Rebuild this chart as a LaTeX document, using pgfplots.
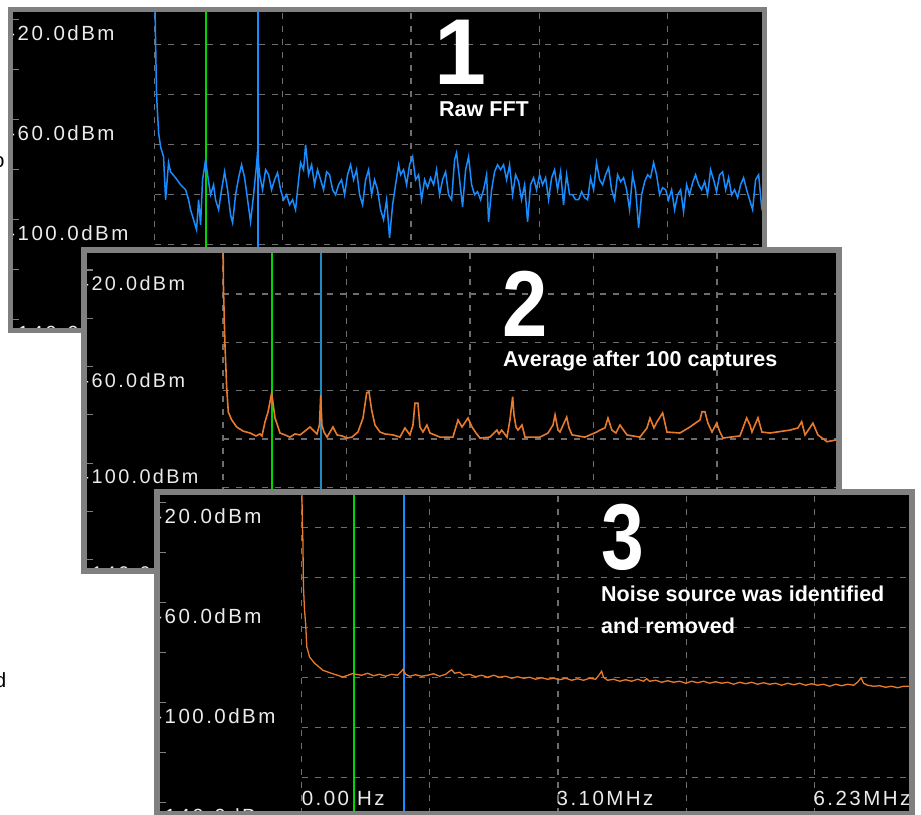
\documentclass[border=0pt]{standalone}
\usepackage{fontspec}
\setmainfont{Liberation Sans}
\newfontfamily\lab[LetterSpace=12]{Liberation Sans}
\usepackage{pgfplots}
\pgfplotsset{compat=1.18}
\definecolor{framec}{RGB}{128,128,128}
\definecolor{gridc}{RGB}{110,110,110}
\definecolor{traceblue}{RGB}{25,140,255}
\definecolor{traceorange}{RGB}{232,122,44}
\definecolor{cursorgreen}{RGB}{0,215,0}
\definecolor{cursorteal}{RGB}{30,140,195}
\definecolor{labc}{RGB}{235,235,235}
\tikzset{gridl/.style={gridc, line width=1.3pt, dash pattern=on 6pt off 7pt},
 ylab/.style={anchor=base west, inner sep=0, text=labc}}
\pgfplotsset{
 panel/.style={
  scale only axis, anchor=south west,
  axis background/.style={fill=black},
  axis line style={draw=none},
  xtick=\empty,
  ytick={-20,-40,-60,-80,-100,-120,-140},
  yticklabels={},
  ytick pos=left,
  tick align=inside,
  major tick length=6pt,
  tick style={framec, line width=1.2pt},
  clip=true,
 },
}
\newcommand{\gridlines}{%
 \draw[gridl] (axis cs:0,-30) -- (axis cs:8,-30);
 \draw[gridl] (axis cs:0,-50) -- (axis cs:8,-50);
 \draw[gridl] (axis cs:0,-70) -- (axis cs:8,-70);
 \draw[gridl] (axis cs:0,-90) -- (axis cs:8,-90);
 \draw[gridl] (axis cs:0,-110) -- (axis cs:8,-110);
 \draw[gridl] (axis cs:0,-130) -- (axis cs:8,-130);
 \draw[gridl] (axis cs:0,-150) -- (axis cs:0,0);
 \draw[gridl] (axis cs:1.5575,-150) -- (axis cs:1.5575,0);
 \draw[gridl] (axis cs:3.115,-150) -- (axis cs:3.115,0);
 \draw[gridl] (axis cs:4.6725,-150) -- (axis cs:4.6725,0);
 \draw[gridl] (axis cs:6.23,-150) -- (axis cs:6.23,0);
}
% #1 xmin, #2 xshift, #3 font size
\newcommand{\ylabels}[3]{%
 \node[ylab, xshift=#2, font=\lab\fontsize{#3}{24}\selectfont] at (axis cs:#1,-28.5) {-20.0dBm};
 \node[ylab, xshift=#2, font=\lab\fontsize{#3}{24}\selectfont] at (axis cs:#1,-68.5) {-60.0dBm};
 \node[ylab, xshift=#2, font=\lab\fontsize{#3}{24}\selectfont] at (axis cs:#1,-108.5) {-100.0dBm};
 \node[ylab, xshift=#2, font=\lab\fontsize{#3}{24}\selectfont] at (axis cs:#1,-148.5) {-140.0dBm};
}
\begin{document}
\begin{tikzpicture}
\useasboundingbox (0pt,0pt) rectangle (921pt,814pt);
\fill[white] (0pt,0pt) rectangle (921pt,814pt);
\node[anchor=base east, inner sep=0, font=\fontsize{20.5}{24}\selectfont] at (4.7pt,646pt) {o};
\node[anchor=base east, inner sep=0, font=\fontsize{20.5}{24}\selectfont] at (6.4pt,126pt) {d};

% ---------------- Panel 1 ----------------
\begin{axis}[panel, at={(13pt,486pt)}, width=749pt, height=316pt,
  xmin=-1.72, xmax=7.38, ymin=-143.5, ymax=-17.1]
\gridlines
\addplot[draw=cursorgreen, line width=2pt] coordinates {(0.620,-150) (0.620,0)};
\addplot[draw=traceblue, line width=2pt] coordinates {(1.251,-150) (1.251,0)};
\addplot[draw=traceblue, line width=1.5pt] coordinates {
(0,-5) (0.012,-28.2) (0.024,-50.2) (0.049,-65.4) (0.073,-71.0) (0.109,-75.0) (0.134,-92.2) (0.170,-77.4) (0.194,-81.0) (0.255,-83.4) (0.316,-86.2) (0.377,-88.2) (0.413,-92.2) (0.437,-96.2) (0.474,-100.2) (0.510,-104.2) (0.535,-92.2) (0.559,-102.2) (0.583,-84.2) (0.620,-76.2) (0.644,-82.2) (0.680,-90.2) (0.717,-86.2) (0.741,-92.2) (0.778,-96.2) (0.814,-88.2) (0.851,-81.0) (0.887,-88.2) (0.923,-98.2) (0.948,-101.4) (0.984,-90.2) (1.021,-83.4) (1.057,-78.2) (1.094,-83.4) (1.130,-92.2) (1.166,-101.0) (1.203,-90.2) (1.239,-78.2) (1.251,-73.0) (1.276,-82.2) (1.312,-88.2) (1.349,-80.2) (1.385,-82.2) (1.422,-88.2) (1.458,-84.2) (1.494,-81.4) (1.531,-88.2) (1.567,-92.2) (1.604,-90.2) (1.640,-94.2) (1.677,-92.2) (1.713,-96.2) (1.750,-84.2) (1.774,-77.4) (1.810,-80.2) (1.835,-70.2) (1.871,-82.2) (1.908,-78.2) (1.944,-86.2) (1.980,-80.2) (2.017,-84.2) (2.053,-88.2) (2.090,-81.0) (2.126,-82.2) (2.163,-88.2) (2.199,-90.2) (2.236,-86.2) (2.272,-84.2) (2.309,-90.2) (2.345,-82.2) (2.381,-78.2) (2.418,-84.2) (2.454,-80.2) (2.491,-90.2) (2.527,-94.2) (2.564,-84.2) (2.600,-80.2) (2.637,-90.2) (2.673,-84.2) (2.709,-88.2) (2.746,-96.2) (2.782,-100.2) (2.819,-92.2) (2.855,-107.4) (2.892,-94.2) (2.928,-86.2) (2.965,-78.2) (2.989,-82.2) (3.025,-80.2) (3.062,-86.2) (3.098,-78.2) (3.135,-75.0) (3.171,-84.2) (3.208,-82.2) (3.244,-92.2) (3.281,-84.2) (3.317,-87.4) (3.353,-83.4) (3.390,-86.2) (3.426,-80.2) (3.463,-90.2) (3.499,-84.2) (3.536,-81.0) (3.572,-90.2) (3.609,-92.2) (3.645,-76.2) (3.669,-73.4) (3.706,-84.2) (3.742,-95.0) (3.779,-80.2) (3.815,-75.0) (3.852,-86.2) (3.888,-90.2) (3.924,-89.0) (3.961,-92.2) (3.997,-88.2) (4.034,-82.2) (4.058,-101.0) (4.095,-88.2) (4.131,-81.0) (4.167,-78.2) (4.204,-80.2) (4.240,-78.2) (4.277,-84.2) (4.313,-78.2) (4.350,-90.2) (4.386,-82.2) (4.423,-85.0) (4.459,-92.2) (4.496,-86.2) (4.532,-101.0) (4.568,-86.2) (4.605,-83.4) (4.641,-88.2) (4.678,-82.2) (4.714,-86.2) (4.751,-83.4) (4.787,-92.2) (4.824,-83.4) (4.860,-80.2) (4.896,-88.2) (4.933,-81.0) (4.969,-94.2) (5.006,-82.2) (5.042,-90.2) (5.079,-90.2) (5.115,-92.2) (5.152,-92.2) (5.188,-89.0) (5.225,-91.4) (5.261,-92.2) (5.297,-83.4) (5.334,-88.2) (5.370,-77.4) (5.407,-84.2) (5.443,-86.2) (5.480,-82.2) (5.516,-79.4) (5.553,-88.2) (5.589,-92.2) (5.625,-82.2) (5.662,-85.0) (5.698,-83.4) (5.735,-88.2) (5.771,-96.2) (5.808,-82.2) (5.844,-88.2) (5.881,-103.4) (5.917,-90.2) (5.954,-85.0) (5.990,-82.2) (6.026,-83.4) (6.063,-77.4) (6.099,-82.2) (6.136,-90.2) (6.172,-87.4) (6.209,-88.2) (6.245,-92.2) (6.282,-88.2) (6.318,-96.2) (6.355,-90.2) (6.391,-88.2) (6.427,-97.0) (6.464,-86.2) (6.500,-90.2) (6.537,-85.4) (6.573,-82.2) (6.610,-86.2) (6.646,-88.2) (6.683,-85.0) (6.719,-90.2) (6.755,-80.2) (6.792,-84.2) (6.828,-89.0) (6.865,-82.2) (6.901,-81.0) (6.938,-88.2) (6.974,-83.4) (7.011,-90.2) (7.047,-88.2) (7.084,-91.4) (7.120,-86.2) (7.156,-83.4) (7.193,-88.2) (7.229,-92.2) (7.266,-96.2) (7.302,-84.2) (7.339,-82.2) (7.375,-95.0) (7.412,-90.2)};
\begin{scope}
\clip (rel axis cs:0,0) rectangle (rel axis cs:1,1);
\ylabels{-1.72}{-4.8pt}{20.5}
\end{scope}
\end{axis}
\draw[framec, line width=5pt] (10.5pt,483.5pt) rectangle (764.5pt,804.5pt);
\node[anchor=base, inner sep=0, text=white, font=\bfseries\fontsize{93.6}{100}\selectfont] at (461pt,729pt) {1};
\node[anchor=base west, inner sep=0, text=white, font=\bfseries\fontsize{21.5}{24}\selectfont] at (439pt,697pt) {Raw FFT};

% ---------------- Panel 2 ----------------
\begin{axis}[panel, at={(87pt,246pt)}, width=749pt, height=315pt,
  xmin=-1.715, xmax=7.731, ymin=-143.4, ymax=-12.96, major tick length=5.8pt]
\gridlines
\addplot[draw=cursorgreen, line width=2pt] coordinates {(0.618,-150) (0.618,0)};
\addplot[draw=cursorteal, line width=2pt] coordinates {(1.236,-150) (1.236,0)};
\addplot[draw=traceorange, line width=1.6pt] coordinates {
(0,-5) (0.006,-27.5) (0.025,-51.1) (0.047,-68.9) (0.067,-78.8) (0.110,-82.1) (0.173,-85.0) (0.252,-86.7) (0.341,-87.5) (0.416,-88.7) (0.467,-87.9) (0.492,-88.7) (0.530,-82.9) (0.568,-78.8) (0.614,-70.9) (0.656,-81.3) (0.694,-85.0) (0.719,-87.5) (0.782,-88.3) (0.845,-89.2) (0.908,-87.9) (0.971,-88.3) (1.034,-86.7) (1.097,-85.0) (1.135,-86.3) (1.185,-87.9) (1.217,-84.2) (1.232,-71.8) (1.248,-84.2) (1.274,-87.1) (1.312,-89.2) (1.387,-85.0) (1.438,-88.3) (1.501,-88.7) (1.564,-89.6) (1.627,-89.2) (1.702,-87.1) (1.766,-81.3) (1.812,-70.9) (1.841,-70.4) (1.875,-78.0) (1.917,-84.2) (1.980,-87.1) (2.043,-87.9) (2.144,-88.3) (2.232,-89.2) (2.295,-85.4) (2.358,-88.3) (2.396,-84.2) (2.421,-75.1) (2.459,-75.1) (2.484,-85.0) (2.522,-87.1) (2.572,-84.2) (2.610,-87.5) (2.736,-89.2) (2.900,-89.2) (2.964,-82.1) (3.014,-85.0) (3.090,-81.3) (3.140,-85.0) (3.191,-87.5) (3.241,-89.6) (3.367,-89.2) (3.455,-86.3) (3.481,-87.9) (3.515,-86.3) (3.582,-89.2) (3.619,-82.1) (3.653,-72.5) (3.670,-80.0) (3.695,-85.0) (3.720,-86.3) (3.771,-84.2) (3.809,-89.2) (3.872,-89.2) (3.998,-89.2) (4.099,-87.5) (4.162,-84.2) (4.188,-80.0) (4.225,-86.3) (4.250,-87.1) (4.335,-80.9) (4.364,-85.4) (4.402,-88.3) (4.565,-89.2) (4.713,-87.1) (4.754,-86.3) (4.817,-85.4) (4.855,-81.3) (4.905,-86.3) (4.956,-87.5) (5.006,-84.2) (5.095,-88.3) (5.259,-89.2) (5.347,-85.4) (5.385,-81.3) (5.435,-85.4) (5.473,-82.9) (5.545,-79.2) (5.599,-87.1) (5.763,-87.5) (5.889,-85.0) (6.015,-82.1) (6.041,-78.7) (6.078,-78.7) (6.116,-83.4) (6.167,-87.1) (6.226,-83.4) (6.267,-87.1) (6.305,-89.6) (6.520,-88.7) (6.604,-81.3) (6.646,-84.2) (6.671,-87.1) (6.747,-81.2) (6.797,-87.1) (6.898,-87.5) (7.150,-86.3) (7.251,-85.4) (7.298,-82.8) (7.340,-88.3) (7.440,-83.4) (7.503,-88.3) (7.617,-91.1) (7.730,-90.4)};
\begin{scope}
\clip (rel axis cs:0,0) rectangle (rel axis cs:1,1);
\ylabels{-1.715}{-4.6pt}{19.8}
\end{scope}
\end{axis}
\draw[framec, line width=6pt] (84pt,243pt) rectangle (839pt,564pt);
\node[anchor=base, inner sep=0, text=white, font=\bfseries\fontsize{93.6}{100}\selectfont] at (525pt,477.3pt) {\scalebox{0.87}[1]{2}};
\node[anchor=base west, inner sep=0, text=white, font=\bfseries\fontsize{21.5}{24}\selectfont] at (503pt,447.5pt) {Average after 100 captures};

% ---------------- Panel 3 ----------------
\begin{axis}[panel, at={(160pt,3pt)}, width=749pt, height=316pt,
  xmin=-1.72, xmax=7.38, ymin=-143.5, ymax=-17.1]
\gridlines
\addplot[draw=cursorgreen, line width=2pt] coordinates {(0.632,-150) (0.632,0)};
\addplot[draw=traceblue, line width=2pt] coordinates {(1.239,-150) (1.239,0)};
\addplot[draw=traceorange, line width=1.3pt] coordinates {
(0,-5) (0.009,-27.2) (0.016,-35.2) (0.023,-53.9) (0.036,-63.2) (0.049,-68.4) (0.064,-77.9) (0.097,-81.9) (0.158,-84.4) (0.259,-87.2) (0.361,-88.4) (0.502,-89.9) (0.623,-88.5) (0.656,-88.8) (0.729,-89.2) (0.802,-88.4) (0.875,-89.4) (0.948,-88.8) (1.021,-89.6) (1.094,-88.8) (1.166,-89.2) (1.203,-88.0) (1.233,-86.8) (1.264,-88.8) (1.312,-89.6) (1.385,-89.0) (1.458,-89.6) (1.531,-89.2) (1.604,-88.6) (1.677,-89.6) (1.750,-88.8) (1.798,-87.6) (1.823,-87.0) (1.859,-88.4) (1.920,-88.0) (1.968,-89.2) (2.041,-88.8) (2.114,-89.8) (2.187,-89.2) (2.260,-90.0) (2.333,-89.2) (2.406,-90.0) (2.479,-89.6) (2.552,-90.4) (2.624,-89.8) (2.697,-90.4) (2.770,-90.0) (2.843,-90.8) (2.916,-90.2) (2.989,-90.8) (3.062,-90.4) (3.135,-91.0) (3.208,-90.4) (3.281,-91.2) (3.353,-90.6) (3.426,-91.2) (3.499,-90.4) (3.572,-90.8) (3.621,-88.8) (3.645,-87.6) (3.669,-90.0) (3.718,-91.2) (3.791,-90.8) (3.864,-91.6) (3.937,-91.0) (4.010,-91.6) (4.082,-90.8) (4.155,-91.6) (4.192,-90.6) (4.228,-91.6) (4.301,-91.2) (4.374,-92.0) (4.447,-91.4) (4.520,-92.0) (4.593,-91.6) (4.666,-92.4) (4.739,-91.6) (4.811,-92.2) (4.884,-91.6) (4.957,-92.4) (5.030,-91.8) (5.103,-92.4) (5.176,-92.0) (5.249,-92.8) (5.322,-92.0) (5.395,-92.6) (5.468,-92.0) (5.540,-92.8) (5.613,-92.2) (5.686,-92.8) (5.759,-92.4) (5.832,-93.2) (5.905,-92.4) (5.978,-93.0) (6.051,-92.4) (6.124,-93.2) (6.197,-92.6) (6.269,-93.2) (6.342,-92.8) (6.415,-93.6) (6.488,-92.8) (6.561,-93.4) (6.634,-92.8) (6.707,-93.2) (6.755,-92.0) (6.798,-90.2) (6.828,-92.4) (6.877,-93.2) (6.950,-93.6) (7.023,-93.4) (7.096,-94.0) (7.169,-93.6) (7.241,-94.2) (7.314,-93.6) (7.387,-93.6)};
\begin{scope}
\clip (rel axis cs:0,0) rectangle (rel axis cs:1,1);
\ylabels{-1.72}{-4.8pt}{20.5}
\node[ylab, font=\lab\fontsize{20.5}{24}\selectfont] at (axis cs:0,-141.2) {0.00 Hz};
\node[ylab, xshift=-1.5pt, font=\lab\fontsize{20.5}{24}\selectfont] at (axis cs:3.115,-141.2) {3.10MHz};
\node[ylab, xshift=-1pt, font=\lab\fontsize{20.5}{24}\selectfont] at (axis cs:6.23,-141.2) {6.23MHz};
\end{scope}
\end{axis}
\draw[framec, line width=6pt] (157pt,0pt) rectangle (912pt,322pt);
\node[anchor=base, inner sep=0, text=white, font=\bfseries\fontsize{93.6}{100}\selectfont] at (623pt,244pt) {\scalebox{0.82}[1]{3}};
\node[anchor=base west, inner sep=0, text=white, font=\bfseries\fontsize{21.5}{24}\selectfont] at (601pt,212.3pt) {Noise source was identified};
\node[anchor=base west, inner sep=0, text=white, font=\bfseries\fontsize{21.5}{24}\selectfont] at (601pt,180.7pt) {and removed};
\end{tikzpicture}
\end{document}
